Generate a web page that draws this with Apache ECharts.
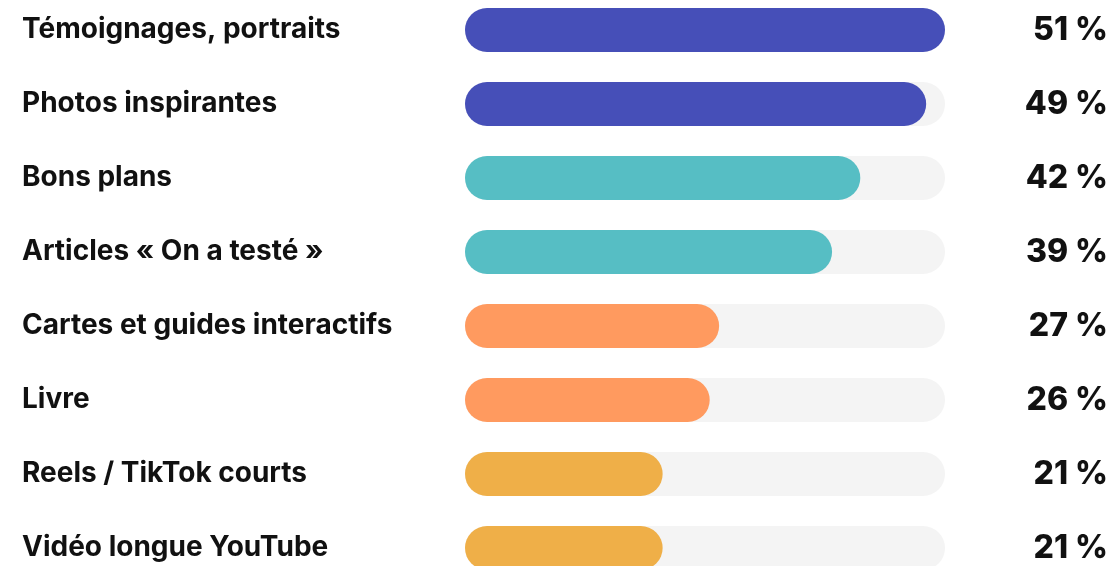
<!DOCTYPE html>
<html>
<head>
<meta charset="utf-8">
<script src="https://cdn.jsdelivr.net/npm/echarts@6/dist/echarts.min.js"></script>
<style>
  html, body { margin: 0; padding: 0; background: #ffffff; overflow: hidden; width: 1114px; height: 566px; position: relative; }
  /* the last row runs past the bottom edge, the first sits close to the top */
  #chart { position: absolute; left: 0; top: -7px; width: 1114px; height: 600px; }
</style>
</head>
<body>
<div id="chart"></div>
<script>
// Content formats readers would like to see more of (share of respondents, %)
const categories = [
  'Témoignages, portraits',
  'Photos inspirantes',
  'Bons plans',
  'Articles « On a testé »',
  'Cartes et guides interactifs',
  'Livre',
  'Reels / TikTok courts',
  'Vidéo longue YouTube'
];
const values = [51, 49, 42, 39, 27, 26, 21, 21];
const barColors = [
  '#464FB8', '#464FB8',
  '#56BEC4', '#56BEC4',
  '#FF9A5F', '#FF9A5F',
  '#EFAF48', '#EFAF48'
];

const FONT = 'Inter, "Noto Sans", sans-serif';
const chart = echarts.init(document.getElementById('chart'), null, { renderer: 'canvas' });

chart.setOption({
  animation: false,
  backgroundColor: '#ffffff',
  grid: { left: 465, right: 169, top: 0, height: 592, containLabel: false },
  xAxis: {
    type: 'value', min: 0, max: 51,
    show: false
  },
  yAxis: [
    {
      type: 'category', data: categories, inverse: true,
      axisLine: { show: false }, axisTick: { show: false },
      axisLabel: {
        align: 'left', margin: 443,
        color: '#111111', fontFamily: FONT, fontWeight: 700, fontSize: 28
      }
    },
    {
      type: 'category', data: values.map(v => v + ' %'), inverse: true,
      position: 'right',
      axisLine: { show: false }, axisTick: { show: false },
      axisLabel: {
        align: 'right', margin: 163,
        color: '#111111', fontFamily: FONT, fontWeight: 800, fontSize: 32
      }
    }
  ],
  series: [{
    type: 'bar',
    data: values.map((v, i) => ({ value: v, itemStyle: { color: barColors[i] } })),
    barWidth: 44,
    itemStyle: { borderRadius: 22 },
    showBackground: true,
    backgroundStyle: { color: '#F4F4F4', borderRadius: 22 }
  }]
});
</script>
</body>
</html>
